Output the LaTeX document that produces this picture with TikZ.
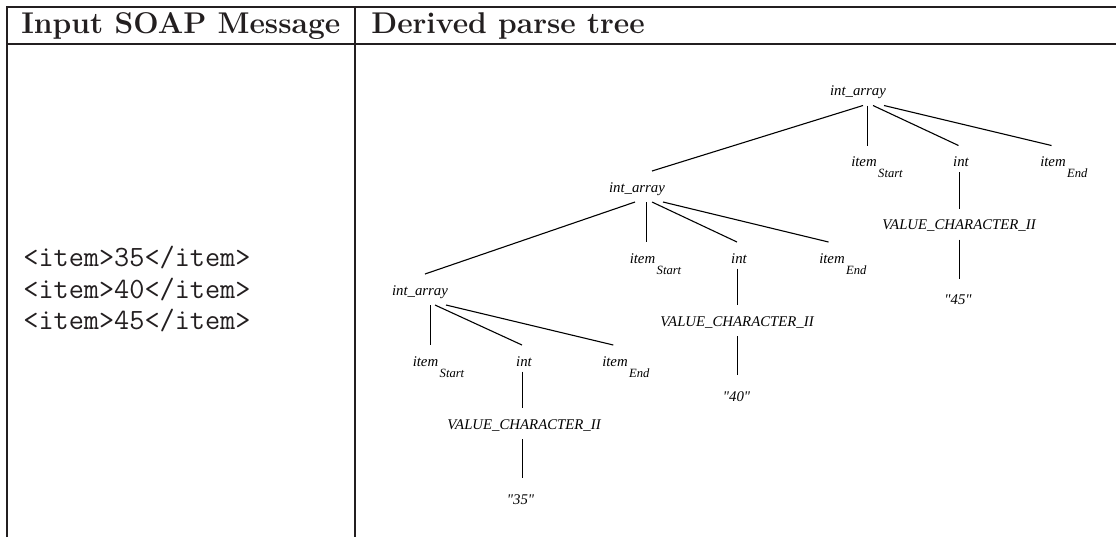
\documentclass[tikz,border=0pt]{standalone}
\usepackage{fontspec}
\newfontfamily\treefont{Liberation Serif}
\definecolor{ink}{RGB}{35,31,32}
\newcommand{\subsc}[1]{\rlap{\kern0.75pt\raisebox{-5.5pt}{\fontsize{6.3}{7}\selectfont #1}}}
\tikzset{
  rule/.style={draw=ink, line width=1pt},
  head/.style={anchor=base west, inner sep=0pt, text=ink,
    font=\fontsize{15}{18}\selectfont\bfseries},
  code/.style={anchor=base west, inner sep=0pt, text=ink,
    font=\fontsize{14.7}{17}\selectfont\ttfamily},
  tl/.style={anchor=base, inner sep=0pt, outer ysep=2.5pt,
    text height=8pt, text depth=2.5pt,
    font=\treefont\itshape\fontsize{7.4}{8}\selectfont},
  intl/.style={tl, text depth=0.3pt},
  leaf/.style={tl, text height=10.5pt},
  edge/.style={draw=black, line width=0.55pt},
}
\begin{document}
\begin{tikzpicture}[x=0.5pt, y=-0.5pt]
\useasboundingbox (0,0) rectangle (1116,537);

% table rules
\draw[rule] (7,537) -- (7,7) -- (1116,7);
\draw[rule] (7,44) -- (1116,44);
\draw[rule] (355,7) -- (355,537);

% header row
\node[head] (hin)  at (21,33) {Input SOAP Message};
\node[head] (hout) at (371,33) {Derived parse tree};

% input message
\node[code] (m1) at (23,266.5) {<item>35</item>};
\node[code] (m2) at (23,298)   {<item>40</item>};
\node[code] (m3) at (23,329.5) {<item>45</item>};

% top level
\node[tl]   (R)  at (858,95.5)   {int\_array};
\node[tl]   (Sa) at (864,166.5)  {item\subsc{Start}};
\node[intl] (Ia) at (961,166.5)  {int};
\node[tl]   (Ea) at (1053,166.5) {item\subsc{End}};
\node[tl]   (Va) at (959,229.5)  {VALUE\_CHARACTER\_II};
\node[leaf] (La) at (958,304.5)  {"45"};

% middle level
\node[tl]   (B)  at (637,192)   {int\_array};
\node[tl]   (Sb) at (642.5,263) {item\subsc{Start}};
\node[intl] (Ib) at (739,263)   {int};
\node[tl]   (Eb) at (832,263)   {item\subsc{End}};
\node[tl]   (Vb) at (737,326)   {VALUE\_CHARACTER\_II};
\node[leaf] (Lb) at (736.5,401) {"40"};

% bottom level
\node[tl]   (C)  at (420,295)   {int\_array};
\node[tl]   (Sc) at (425.5,366) {item\subsc{Start}};
\node[intl] (Ic) at (524,366)   {int};
\node[tl]   (Ec) at (615,366)   {item\subsc{End}};
\node[tl]   (Vc) at (524,429)   {VALUE\_CHARACTER\_II};
\node[leaf] (Lc) at (520.5,504) {"35"};

% edges of the top level
\draw[edge] ([xshift=2.5pt]R.south) -- ([xshift=7.5pt]B.north);
\draw[edge] ([xshift=4.75pt]R.south) -- ([xshift=1.75pt]Sa.north);
\draw[edge] ([xshift=7.5pt]R.south) -- ([xshift=-1.25pt]Ia.north);
\draw[edge] ([xshift=13pt]R.south) -- ([xshift=-0.75pt]Ea.north);
\draw[edge] ([xshift=-0.75pt]Ia.south) -- ([xshift=-0.75pt]Ia.south |- Va.north);
\draw[edge] ([xshift=-0.75pt]Ia.south |- Va.south) -- ([xshift=-0.75pt]Ia.south |- La.north);

% edges of the middle level
\draw[edge] ([xshift=-1pt]B.south) -- ([xshift=2.5pt]C.north);
\draw[edge] ([xshift=4.75pt]B.south) -- ([xshift=2pt]Sb.north);
\draw[edge] ([xshift=7.5pt]B.south) -- ([xshift=-1pt]Ib.north);
\draw[edge] ([xshift=13pt]B.south) -- ([xshift=-1.75pt]Eb.north);
\draw[edge] ([xshift=-0.75pt]Ib.south) -- ([xshift=-0.75pt]Ib.south |- Vb.north);
\draw[edge] ([xshift=-0.75pt]Ib.south |- Vb.south) -- ([xshift=-0.75pt]Ib.south |- Lb.north);

% edges of the bottom level
\draw[edge] ([xshift=5.25pt]C.south) -- ([xshift=2.5pt]Sc.north);
\draw[edge] ([xshift=7.5pt]C.south) -- ([xshift=-1pt]Ic.north);
\draw[edge] ([xshift=13pt]C.south) -- ([xshift=-0.85pt]Ec.north);
\draw[edge] ([xshift=-0.75pt]Ic.south) -- ([xshift=-0.75pt]Ic.south |- Vc.north);
\draw[edge] ([xshift=-0.75pt]Ic.south |- Vc.south) -- ([xshift=-0.75pt]Ic.south |- Lc.north);
\end{tikzpicture}
\end{document}
